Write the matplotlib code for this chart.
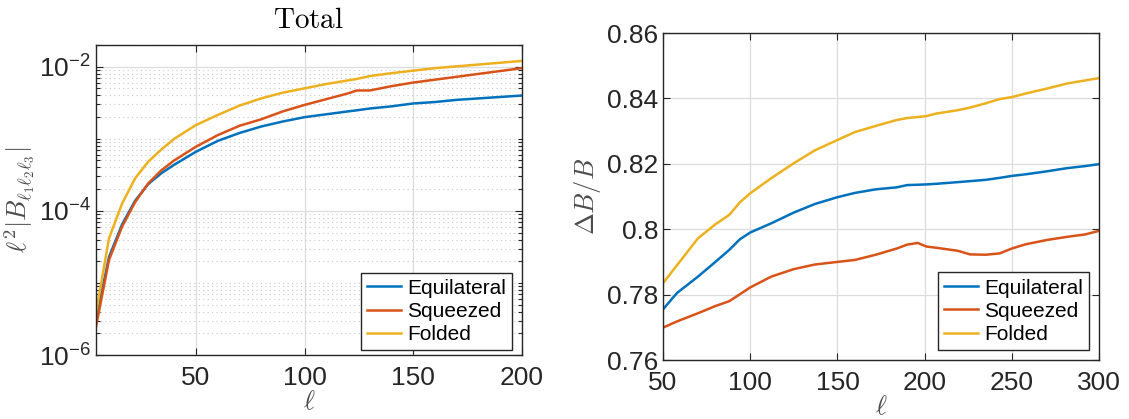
import matplotlib
matplotlib.use("Agg")
import matplotlib.pyplot as plt
from matplotlib.ticker import LogLocator, NullFormatter, FuncFormatter, FixedLocator
import numpy as np

# ---- data -------------------------------------------------------------
series_names = ["Equilateral", "Squeezed", "Folded"]
colors = ["#0072BD", "#D95319", "#EDB120"]

# Total bispectrum amplitude, stored as log10(l^2 |B|)
ell_total = [4, 10, 16, 22, 28, 34, 40, 50, 60, 70, 80, 90, 100, 110, 120,
             124, 130, 140, 150, 160, 170, 180, 190, 200]
log_equilateral = [-5.51, -4.64, -4.19, -3.86, -3.63, -3.48, -3.36, -3.18,
                   -3.03, -2.92, -2.83, -2.76, -2.70, -2.66, -2.62, -2.605,
                   -2.58, -2.55, -2.51, -2.49, -2.46, -2.44, -2.42, -2.40]
log_squeezed = [-5.61, -4.68, -4.22, -3.88, -3.62, -3.44, -3.30, -3.11,
                -2.95, -2.82, -2.73, -2.62, -2.53, -2.45, -2.37, -2.33,
                -2.33, -2.27, -2.22, -2.18, -2.14, -2.10, -2.06, -2.02]
log_folded = [-5.42, -4.38, -3.90, -3.55, -3.32, -3.15, -3.00, -2.81,
              -2.67, -2.54, -2.44, -2.36, -2.30, -2.24, -2.19, -2.17,
              -2.13, -2.09, -2.055, -2.02, -1.995, -1.97, -1.945, -1.92]

# Relative uncertainty Delta B / B
ell_rel = [50, 58, 70, 80, 88, 94, 100, 112, 125, 137, 150, 160, 172, 184,
           190, 196, 201, 207, 219, 226, 235, 243, 250, 258, 270, 282, 292, 300]
rel_equilateral = [0.7755, 0.7805, 0.7855, 0.7900, 0.7937, 0.7969, 0.7990,
                   0.8018, 0.8051, 0.8077, 0.8098, 0.8111, 0.8122, 0.8128,
                   0.8135, 0.8136, 0.8137, 0.8139, 0.8144, 0.8147, 0.8151,
                   0.8157, 0.8163, 0.8168, 0.8177, 0.8187, 0.8193, 0.8199]
rel_squeezed = [0.7699, 0.7718, 0.7743, 0.7765, 0.7780, 0.7801, 0.7822,
                0.7855, 0.7878, 0.7892, 0.7900, 0.7906, 0.7922, 0.7941,
                0.7953, 0.7958, 0.7947, 0.7943, 0.7934, 0.7923, 0.7922,
                0.7926, 0.7941, 0.7954, 0.7967, 0.7977, 0.7984, 0.7995]
rel_folded = [0.7835, 0.7890, 0.7972, 0.8015, 0.8044, 0.8082, 0.8110,
              0.8156, 0.8202, 0.8241, 0.8273, 0.8297, 0.8316, 0.8334,
              0.8340, 0.8343, 0.8346, 0.8354, 0.8364, 0.8372, 0.8385,
              0.8398, 0.8404, 0.8415, 0.8430, 0.8446, 0.8455, 0.8462]

left_xticks = [50, 100, 150, 200]
left_yticks = [1e-6, 1e-4, 1e-2]
right_xticks = [50, 100, 150, 200, 250, 300]
right_yticks = [0.76, 0.78, 0.80, 0.82, 0.84, 0.86]

# ---- style ------------------------------------------------------------
plt.rcParams["font.family"] = ["Liberation Sans", "DejaVu Sans"]
plt.rcParams["mathtext.fontset"] = "cm"
axcol = "#262626"
labcol = "#4d4d4d"

fig = plt.figure(figsize=(11.29, 4.19), dpi=100)
ax1 = fig.add_axes([0.0850, 0.1527, 0.3773, 0.7399])
ax2 = fig.add_axes([0.5873, 0.1408, 0.3862, 0.7804])


def style_axes(ax):
    for sp in ax.spines.values():
        sp.set_color(axcol)
        sp.set_linewidth(1.0)
    ax.tick_params(which="both", direction="in", top=True, right=True,
                   color=axcol, labelcolor=axcol, labelsize=19, width=0.8)
    ax.tick_params(which="major", length=5)
    ax.tick_params(which="minor", length=3)
    ax.tick_params(axis="x", pad=8)
    ax.set_axisbelow(True)


def pow10_label(v, pos):
    return r"$\mathregular{10^{%d}}$" % int(round(np.log10(v)))


def legend_box(ax, anchor):
    leg = ax.legend(loc="lower right", bbox_to_anchor=anchor, fontsize=15,
                    frameon=True, fancybox=False, edgecolor=axcol, framealpha=1,
                    handlelength=1.6, handletextpad=0.3, borderpad=0.3,
                    labelspacing=0.2, borderaxespad=0.0)
    leg.get_frame().set_linewidth(1.0)
    return leg


# ---- left panel: total -------------------------------------------------
left_data = [log_equilateral, log_squeezed, log_folded]
for name, c, vals in zip(series_names, colors, left_data):
    ax1.plot(ell_total, 10.0 ** np.asarray(vals), color=c, lw=1.8, label=name)
ax1.set_yscale("log")
ax1.set_xlim(4, 200)
ax1.set_ylim(1e-6, 2e-2)
ax1.set_xticks(left_xticks)
ax1.yaxis.set_major_locator(FixedLocator(left_yticks))
ax1.yaxis.set_major_formatter(FuncFormatter(pow10_label))
ax1.yaxis.set_minor_locator(LogLocator(base=10, subs=np.arange(1, 10), numticks=50))
ax1.yaxis.set_minor_formatter(NullFormatter())
style_axes(ax1)
ax1.grid(True, which="major", color="#dcdcdc", lw=0.9)
ax1.grid(True, which="minor", axis="y", color="#c8c8c8", lw=0.8, ls=(0, (1, 3)))
ax1.set_title(r"$\mathrm{Total}$", fontsize=21, color="black", pad=12)
ax1.set_xlabel(r"$\ell$", fontsize=19, color=labcol, labelpad=0)
ax1.set_ylabel(r"$\ell^2|B_{\ell_1\ell_2\ell_3}|$", fontsize=19, color=labcol,
               labelpad=2)
legend_box(ax1, (0.977, 0.015))

# ---- right panel: relative uncertainty ---------------------------------
right_data = [rel_equilateral, rel_squeezed, rel_folded]
for name, c, vals in zip(series_names, colors, right_data):
    ax2.plot(ell_rel, vals, color=c, lw=1.8, label=name)
ax2.set_xlim(50, 300)
ax2.set_ylim(0.76, 0.86)
ax2.set_xticks(right_xticks)
ax2.set_yticks(right_yticks)
ax2.yaxis.set_major_formatter(FuncFormatter(lambda v, p: f"{v:g}"))
style_axes(ax2)
ax2.grid(True, which="major", color="#dcdcdc", lw=0.9)
ax2.set_xlabel(r"$\ell$", fontsize=19, color=labcol, labelpad=0)
ax2.set_ylabel(r"$\Delta B/B$", fontsize=19, color=labcol, labelpad=3)
legend_box(ax2, (0.977, 0.03))

fig.savefig("out.png", dpi=100)
